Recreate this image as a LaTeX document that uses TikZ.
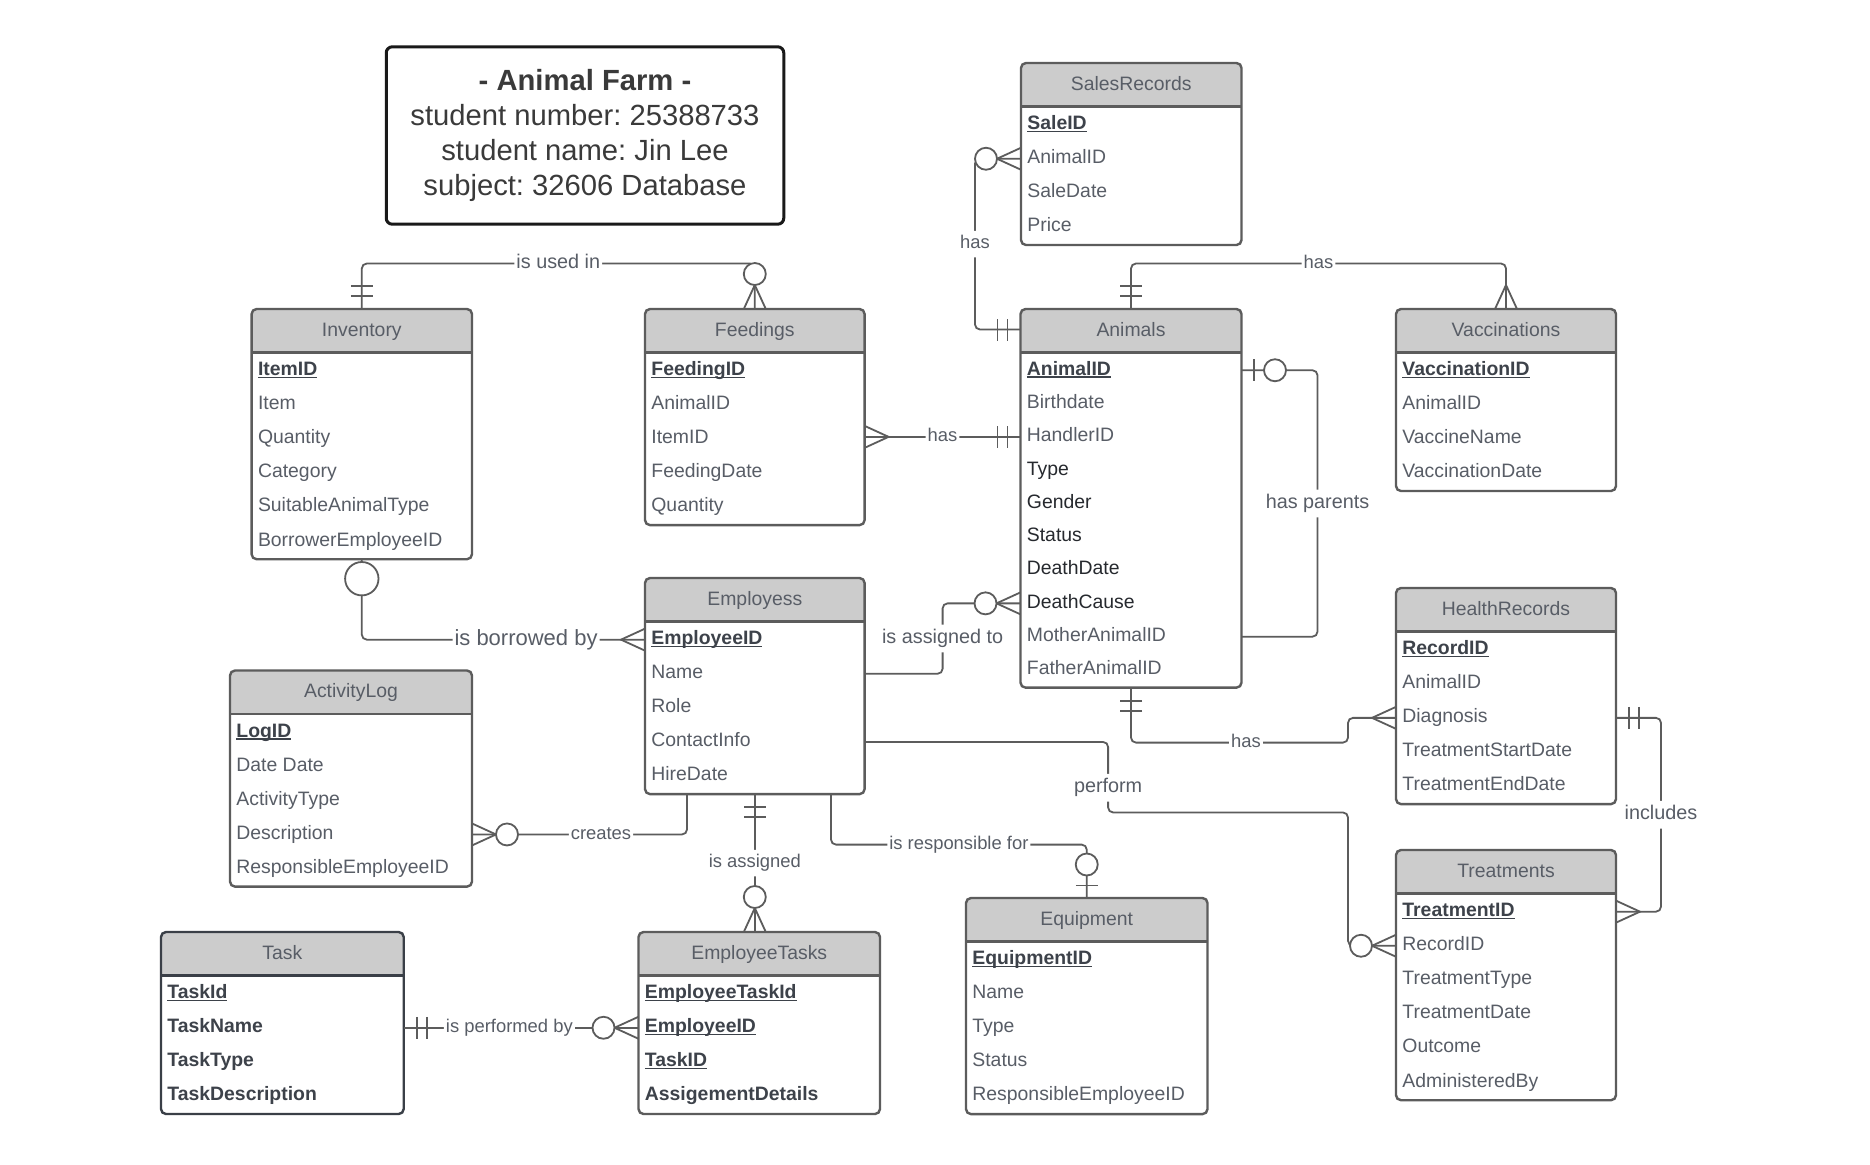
\documentclass[tikz,border=0pt]{standalone}
\usepackage{fontspec}
\setmainfont{Liberation Sans}
\usepackage{tikz}
\usetikzlibrary{calc}
\frenchspacing

\definecolor{lineclr}{HTML}{5C5C5C}
\definecolor{headfill}{HTML}{CCCCCC}
\definecolor{txtclr}{HTML}{585D66}
\definecolor{keyclr}{HTML}{3D424A}
\definecolor{darkclr}{HTML}{26292E}
\definecolor{taskclr}{HTML}{3A3F47}
\definecolor{titleclr}{HTML}{3A3A3A}

\newcommand\attrfont{\fontsize{9.7}{11.6}\selectfont}
\newcommand\relfont{\fontsize{9.2}{11}\selectfont}
% key, dark and bold attributes
\newcommand\keyattr[1]{\textbf{\color{keyclr}\setbox0\hbox{#1}\rlap{\rule[-1.3pt]{\wd0}{0.65pt}}\box0}}
\newcommand\darkattr[1]{{\color{darkclr}#1}}
\newcommand\boldattr[1]{\textbf{\color{keyclr}#1}}

\tikzset{
  conn/.style={draw=lineclr, line width=0.9pt, rounded corners=2.5pt},
  ebox/.style={draw=lineclr, line width=1.2pt, rounded corners=2.5pt, anchor=north west, inner sep=0pt, outer sep=0pt},
  headtxt/.style={font=\attrfont, text=txtclr, inner sep=0pt, text height=6.9pt, text depth=0pt},
  attr/.style={anchor=west, inner sep=0pt, font=\attrfont, text=txtclr, text height=6.9pt, text depth=2pt},
  rlabel/.style={fill=white, font=\relfont, text=txtclr, inner xsep=1pt, inner ysep=2.4pt, text height=6.6pt, text depth=1.9pt},
  midrlabel/.style={rlabel, font=\fontsize{9.9}{12}\selectfont, text height=7.1pt, text depth=2pt},
  bigrlabel/.style={rlabel, font=\fontsize{11}{13}\selectfont, text height=7.9pt, text depth=2.3pt},
  titlebox/.style={draw=black!90, line width=1.5pt, rounded corners=3pt, minimum width=198.75pt, minimum height=88.7pt,
    align=center, inner sep=0pt, text=titleclr, font=\fontsize{14.6}{17.5}\selectfont},
  % cardinality marks, drawn pointing away from the entity edge
  bars/.pic={\draw[conn, sharp corners] (13,-11) -- (13,11) (23,-11) -- (23,11);},
  crow/.pic={\draw[conn, sharp corners] (0,-11) -- (24,0) -- (0,11);},
  ringmany/.pic={\draw[conn, sharp corners] (0,-11) -- (24,0) -- (0,11);
    \draw[conn, fill=white] (35,0) circle[radius=11];},
  ringone/.pic={\draw[conn] (12.5,-11) -- (12.5,11);
    \draw[conn, fill=white] (33.5,0) circle[radius=11];},
  bigring/.pic={\draw[conn, fill=white] (19.5,0) circle[radius=16.7];},
}

% entity: [box style]{name}{top left}{width}{rows}{row height}{title}{attributes}
\newcommand{\entity}[8][]{%
  \pgfmathsetmacro{\bodyh}{43.6+#5*#6+2}
  \begin{scope}
    \clip[rounded corners=2.5pt] (#3) rectangle ++(#4,\bodyh);
    \fill[headfill] (#3) rectangle ++(#4,43.6);
  \end{scope}
  \node[ebox, #1, minimum width=#4*0.5pt, minimum height=\bodyh*0.5pt] (#2) at (#3) {};
  \draw[ebox, #1] ($(#2.north west)+(0,43.6)$) -- ++(#4,0);
  \node[headtxt] (#2-h) at ($(#2.north)+(0,20.5)$) {#7};
  \foreach [count=\i] \txt in {#8}
    \node[attr] (#2-\i) at ($(#2.north west)+(6,{43.6+(\i-0.5)*#6+1})$) {\txt};
}

\begin{document}
\begin{tikzpicture}[x=0.5pt, y=-0.5pt]
\fill[white] (0,0) rectangle (1870,1164);
\useasboundingbox (0,0) rectangle (1870,1164);

% Title
\node[titlebox] (title) at (585,135.5) {\textbf{- Animal Farm -}\\student number: 25388733\\student name: Jin Lee\\subject: 32606 Database};

% Entities
\entity{Inventory}{251.6,309}{220.4}{6}{34.1}{Inventory}{\keyattr{ItemID}, Item, Quantity, Category, SuitableAnimalType, BorrowerEmployeeID}
\entity{Feedings}{645,309}{219.6}{5}{34.1}{Feedings}{\keyattr{FeedingID}, AnimalID, ItemID, FeedingDate, Quantity}
\entity{SalesRecords}{1021,63}{220.5}{4}{34.1}{SalesRecords}{\keyattr{SaleID}, AnimalID, SaleDate, Price}
\entity{Animals}{1020.5,309}{221}{10}{33.3}{Animals}{\keyattr{AnimalID}, Birthdate, HandlerID, \darkattr{Type}, \darkattr{Gender}, \darkattr{Status}, \darkattr{DeathDate}, \darkattr{DeathCause}, MotherAnimalID, FatherAnimalID}
\entity{Vaccinations}{1396,309}{220}{4}{34.1}{Vaccinations}{\keyattr{VaccinationID}, AnimalID, VaccineName, VaccinationDate}
\entity{Employess}{645,578}{219.6}{5}{34.1}{Employess}{\keyattr{EmployeeID}, Name, Role, ContactInfo, HireDate}
\entity{ActivityLog}{230,670.5}{242}{5}{34.1}{ActivityLog}{\keyattr{LogID}, Date Date, ActivityType, Description, ResponsibleEmployeeID}
\entity{HealthRecords}{1396,588}{220}{5}{34.1}{HealthRecords}{\keyattr{RecordID}, AnimalID, Diagnosis, TreatmentStartDate, TreatmentEndDate}
\entity{Treatments}{1396,850}{220}{6}{34.1}{Treatments}{\keyattr{TreatmentID}, RecordID, TreatmentType, TreatmentDate, Outcome, AdministeredBy}
\entity{Equipment}{966,898}{241.5}{5}{34.1}{Equipment}{\keyattr{EquipmentID}, Name, Type, Status, ResponsibleEmployeeID}
\entity[draw=taskclr]{Task}{161,932}{242.7}{4}{34.1}{Task}{\keyattr{TaskId}, \boldattr{TaskName}, \boldattr{TaskType}, \boldattr{TaskDescription}}
\entity{EmployeeTasks}{638.5,932}{241.5}{4}{34.1}{EmployeeTasks}{\keyattr{EmployeeTaskId}, \keyattr{EmployeeID}, \keyattr{TaskID}, \boldattr{AssigementDetails}}

% Relationships
\draw[conn] (Inventory.north) -- ++(0,-45.5) -| node[midrlabel, pos=0.25] {is used in} (Feedings.north);
\draw[conn] (Animals.north) -- ++(0,-45.5) -| node[rlabel, pos=0.25] {has} (Vaccinations.north);
\draw[conn] (SalesRecords.west |- SalesRecords-2) -- ++(-46,0) |- node[rlabel, pos=0.25] {has} (Animals.west |- Animals-h);
\draw[conn] (Feedings.east |- Animals-3) -- node[rlabel] {has} (Animals.west |- Animals-3);
\draw[conn] (Animals.east |- Animals-1) -- ++(76,0) |- node[midrlabel, pos=0.25] {has parents} (Animals.east |- Animals-9);
\draw[conn] (Employess.east |- Employess-2) -- ++(78,0) |- node[midrlabel, pos=0.25] {is assigned to} (Animals.west |- Animals-8);
\draw[conn] (Inventory.south) |- node[bigrlabel, pos=0.79] {is borrowed by} (Employess.west |- Employess-1);
\draw[conn] (ActivityLog.east |- ActivityLog-4) -| node[rlabel, pos=0.3] {creates} ($(Employess.south west)+(42,0)$);
\draw[conn] (Employess.south) -- node[rlabel] {is assigned} (Employess.south |- EmployeeTasks.north);
\draw[conn] ($(Employess.south west)+(186,0)$) -- ++(0,50.5) -| node[rlabel, pos=0.25] {is responsible for} (Equipment.north);
\draw[conn] (Task.east |- Task-2) -- node[rlabel, pos=0.45] {is performed by} (EmployeeTasks.west |- Task-2);
\draw[conn] (Employess.east |- Employess-4) -- ++(243.5,0) -- node[midrlabel, pos=0.65] {perform} ++(0,70.5)
  -| ($(Treatments.west |- Treatments-2)+(-48,0)$) -- (Treatments.west |- Treatments-2);
\draw[conn] (Animals.south) -- ++(0,55) -| node[rlabel, pos=0.265] {has} ($(HealthRecords.west |- HealthRecords-3)+(-48,0)$)
  -- (HealthRecords.west |- HealthRecords-3);
\draw[conn] (HealthRecords.east |- HealthRecords-3) -- ++(45,0) |- node[midrlabel, pos=0.25] {includes} (Treatments.east |- Treatments-1);

% Cardinality
\pic[rotate=90] at (Inventory.north) {bars};
\pic[rotate=90] at (Feedings.north) {ringmany};
\pic[rotate=90] at (Animals.north) {bars};
\pic[rotate=90] at (Vaccinations.north) {crow};
\pic[rotate=180] at (SalesRecords.west |- SalesRecords-2) {ringmany};
\pic[rotate=180] at (Animals.west |- Animals-h) {bars};
\pic at (Feedings.east |- Animals-3) {crow};
\pic[rotate=180] at (Animals.west |- Animals-3) {bars};
\pic at (Animals.east |- Animals-1) {ringone};
\pic[rotate=180] at (Animals.west |- Animals-8) {ringmany};
\pic[rotate=-90] at (Inventory.south) {bigring};
\pic[rotate=180] at (Employess.west |- Employess-1) {crow};
\pic at (ActivityLog.east |- ActivityLog-4) {ringmany};
\pic[rotate=-90] at (Employess.south) {bars};
\pic[rotate=90] at (Employess.south |- EmployeeTasks.north) {ringmany};
\pic[rotate=90] at (Equipment.north) {ringone};
\pic at (Task.east |- Task-2) {bars};
\pic[rotate=180] at (EmployeeTasks.west |- Task-2) {ringmany};
\pic[rotate=-90] at (Animals.south) {bars};
\pic[rotate=180] at (HealthRecords.west |- HealthRecords-3) {crow};
\pic at (HealthRecords.east |- HealthRecords-3) {bars};
\pic at (Treatments.east |- Treatments-1) {crow};
\pic[rotate=180] at (Treatments.west |- Treatments-2) {ringmany};
\end{tikzpicture}
\end{document}
